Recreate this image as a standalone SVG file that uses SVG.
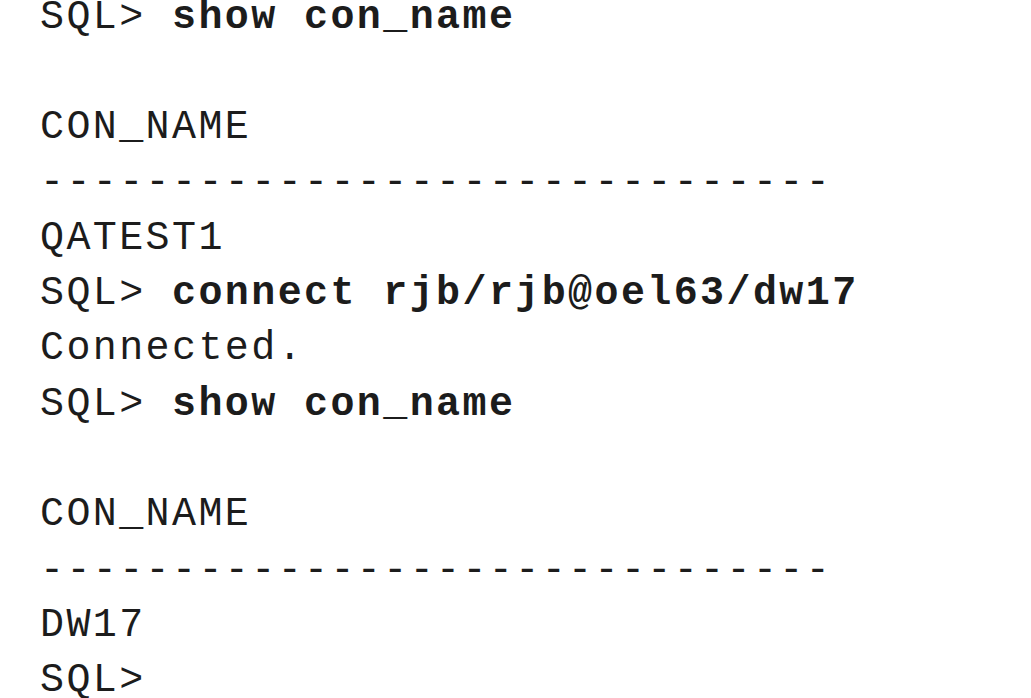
<svg xmlns="http://www.w3.org/2000/svg" width="1031" height="698" viewBox="0 0 1031 698">
<style>
text { font-family: "Liberation Mono", "Courier New", monospace; font-size: 40px; letter-spacing: 2.4px; fill: #1c1c1c; white-space: pre; }
.b { font-weight: bold; }
</style>
<rect width="1031" height="698" fill="#ffffff"/>
<g id="console">
<text x="40" y="27.5">SQL&gt; <tspan class="b">show con_name</tspan></text>
<text x="40" y="138.1">CON_NAME</text>
<text x="40" y="193.4">------------------------------</text>
<text x="40" y="248.7">QATEST1</text>
<text x="40" y="304">SQL&gt; <tspan class="b">connect rjb/rjb@oel63/dw17</tspan></text>
<text x="40" y="359.3">Connected.</text>
<text x="40" y="414.6">SQL&gt; <tspan class="b">show con_name</tspan></text>
<text x="40" y="525.2">CON_NAME</text>
<text x="40" y="580.5">------------------------------</text>
<text x="40" y="635.8">DW17</text>
<text x="40" y="691">SQL&gt;</text>
</g>
</svg>
